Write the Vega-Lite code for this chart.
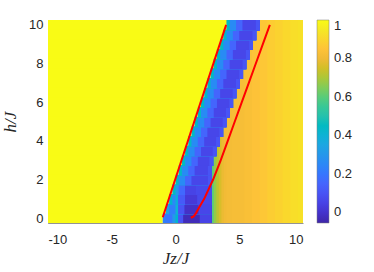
{
  "$schema": "https://vega.github.io/schema/vega-lite/v6.json",
  "width": 255,
  "height": 203,
  "autosize": {"type": "none"},
  "padding": {"left": 48, "top": 20, "right": 71, "bottom": 49},
  "background": "white",
  "config": {
    "view": {"stroke": null},
    "font": "Liberation Sans",
    "axis": {"grid": false, "ticks": false, "labelFontSize": 13, "labelColor": "#262626", "domainColor": "#262626", "domainWidth": 0.5, "titleColor": "#262626", "titleFont": "Liberation Serif", "titleFontStyle": "italic", "titleFontWeight": "normal", "titleFontSize": 17}
  },
  "datasets": {
    "cells": [
      {"x1":2.8,"x2":10,"y1":-0.25,"y2":10.25,"v":0.6},
      {"x1":3.0,"x2":10,"y1":-0.25,"y2":10.25,"v":0.67},
      {"x1":3.2,"x2":10,"y1":-0.25,"y2":10.25,"v":0.72},
      {"x1":3.4,"x2":10,"y1":-0.25,"y2":10.25,"v":0.76},
      {"x1":3.6,"x2":10,"y1":-0.25,"y2":10.25,"v":0.79},
      {"x1":3.8,"x2":10,"y1":-0.25,"y2":10.25,"v":0.805},
      {"x1":4.0,"x2":10,"y1":-0.25,"y2":10.25,"v":0.815},
      {"x1":4.4,"x2":10,"y1":-0.25,"y2":10.25,"v":0.82},
      {"x1":5.4,"x2":10,"y1":-0.25,"y2":10.25,"v":0.83},
      {"x1":6.0,"x2":10,"y1":-0.25,"y2":10.25,"v":0.845},
      {"x1":6.6,"x2":10,"y1":-0.25,"y2":10.25,"v":0.86},
      {"x1":7.2,"x2":10,"y1":-0.25,"y2":10.25,"v":0.875},
      {"x1":7.8,"x2":10,"y1":-0.25,"y2":10.25,"v":0.89},
      {"x1":8.4,"x2":10,"y1":-0.25,"y2":10.25,"v":0.905},
      {"x1":9.0,"x2":10,"y1":-0.25,"y2":10.25,"v":0.92},
      {"x1":9.6,"x2":10,"y1":-0.25,"y2":10.25,"v":0.93},

      {"x1":-10,"x2":-1,"y1":-0.25,"y2":10.25,"v":1},
      {"x1":-10,"x2":-0.75,"y1":0.25,"y2":10.25,"v":1},
      {"x1":-10,"x2":-0.5,"y1":0.75,"y2":10.25,"v":1},
      {"x1":-10,"x2":-0.25,"y1":1.25,"y2":10.25,"v":1},
      {"x1":-10,"x2":0,"y1":1.75,"y2":10.25,"v":1},
      {"x1":-10,"x2":0.25,"y1":2.25,"y2":10.25,"v":1},
      {"x1":-10,"x2":0.5,"y1":2.75,"y2":10.25,"v":1},
      {"x1":-10,"x2":0.75,"y1":3.25,"y2":10.25,"v":1},
      {"x1":-10,"x2":1,"y1":3.75,"y2":10.25,"v":1},
      {"x1":-10,"x2":1.25,"y1":4.25,"y2":10.25,"v":1},
      {"x1":-10,"x2":1.5,"y1":4.75,"y2":10.25,"v":1},
      {"x1":-10,"x2":1.75,"y1":5.25,"y2":10.25,"v":1},
      {"x1":-10,"x2":2,"y1":5.75,"y2":10.25,"v":1},
      {"x1":-10,"x2":2.25,"y1":6.25,"y2":10.25,"v":1},
      {"x1":-10,"x2":2.5,"y1":6.75,"y2":10.25,"v":1},
      {"x1":-10,"x2":2.75,"y1":7.25,"y2":10.25,"v":1},
      {"x1":-10,"x2":3,"y1":7.75,"y2":10.25,"v":1},
      {"x1":-10,"x2":3.25,"y1":8.25,"y2":10.25,"v":1},
      {"x1":-10,"x2":3.5,"y1":8.75,"y2":10.25,"v":1},
      {"x1":-10,"x2":3.75,"y1":9.25,"y2":10.25,"v":1},
      {"x1":-10,"x2":4,"y1":9.75,"y2":10.25,"v":1},

      {"x1":-1,"x2":2.84,"y1":-0.25,"y2":0.25,"v":0.22},
      {"x1":-0.75,"x2":2.84,"y1":-0.25,"y2":0.25,"v":0.2},
      {"x1":-0.25,"x2":2.84,"y1":-0.25,"y2":0.25,"v":0.3},
      {"x1":0,"x2":2.84,"y1":-0.25,"y2":0.25,"v":0.42},
      {"x1":0.2,"x2":2.84,"y1":-0.25,"y2":0.25,"v":0.1},
      {"x1":0.6,"x2":2.84,"y1":-0.25,"y2":0.25,"v":-0.03},
      {"x1":1.9,"x2":2.84,"y1":-0.25,"y2":0.25,"v":0.05},

      {"x1":-0.75,"x2":2.84,"y1":0.2,"y2":0.75,"v":0.35},
      {"x1":-0.5,"x2":2.84,"y1":0.2,"y2":0.75,"v":0.22},
      {"x1":0,"x2":2.84,"y1":0.2,"y2":0.75,"v":0.4},
      {"x1":0.2,"x2":2.84,"y1":0.2,"y2":0.75,"v":0.1},
      {"x1":0.7,"x2":2.84,"y1":0.2,"y2":0.75,"v":-0.01},
      {"x1":1.8,"x2":2.84,"y1":0.2,"y2":0.75,"v":0.06},

      {"x1":-0.5,"x2":2.84,"y1":0.7,"y2":1.25,"v":0.42},
      {"x1":-0.25,"x2":2.84,"y1":0.7,"y2":1.25,"v":0.25},
      {"x1":0,"x2":2.84,"y1":0.7,"y2":1.25,"v":0.38},
      {"x1":0.2,"x2":2.84,"y1":0.7,"y2":1.25,"v":0.12},
      {"x1":0.75,"x2":2.84,"y1":0.7,"y2":1.25,"v":0.02},
      {"x1":1.7,"x2":2.84,"y1":0.7,"y2":1.25,"v":0.07},

      {"x1":-0.25,"x2":2.84,"y1":1.2,"y2":1.75,"v":0.45},
      {"x1":0,"x2":2.84,"y1":1.2,"y2":1.75,"v":0.3},
      {"x1":0.25,"x2":2.84,"y1":1.2,"y2":1.75,"v":0.16},
      {"x1":0.75,"x2":2.84,"y1":1.2,"y2":1.75,"v":0.05},
      {"x1":1.6,"x2":2.84,"y1":1.2,"y2":1.75,"v":0.07},

      {"x1":0,"x2":2.84,"y1":1.7,"y2":2.25,"v":0.45},
      {"x1":0.25,"x2":2.84,"y1":1.7,"y2":2.25,"v":0.26},
      {"x1":0.75,"x2":2.84,"y1":1.7,"y2":2.25,"v":0.15},
      {"x1":1.25,"x2":2.84,"y1":1.7,"y2":2.25,"v":0.06},
      {"x1":2.54,"x2":2.84,"y1":1.7,"y2":2.25,"v":0.1},

      {"x1":0.25,"x2":2.84,"y1":2.2,"y2":2.75,"v":0.45},
      {"x1":0.5,"x2":2.84,"y1":2.2,"y2":2.75,"v":0.26},
      {"x1":1.0,"x2":2.84,"y1":2.2,"y2":2.75,"v":0.15},
      {"x1":1.5,"x2":2.84,"y1":2.2,"y2":2.75,"v":0.06},
      {"x1":2.54,"x2":2.84,"y1":2.2,"y2":2.75,"v":0.1},

      {"x1":0.5,"x2":2.96,"y1":2.7,"y2":3.25,"v":0.45},
      {"x1":0.75,"x2":2.96,"y1":2.7,"y2":3.25,"v":0.26},
      {"x1":1.25,"x2":2.96,"y1":2.7,"y2":3.25,"v":0.15},
      {"x1":1.75,"x2":2.96,"y1":2.7,"y2":3.25,"v":0.06},
      {"x1":2.66,"x2":2.96,"y1":2.7,"y2":3.25,"v":0.1},

      {"x1":0.75,"x2":3.22,"y1":3.2,"y2":3.75,"v":0.45},
      {"x1":1.0,"x2":3.22,"y1":3.2,"y2":3.75,"v":0.26},
      {"x1":1.5,"x2":3.22,"y1":3.2,"y2":3.75,"v":0.15},
      {"x1":2.0,"x2":3.22,"y1":3.2,"y2":3.75,"v":0.06},
      {"x1":2.92,"x2":3.22,"y1":3.2,"y2":3.75,"v":0.1},

      {"x1":1.0,"x2":3.48,"y1":3.7,"y2":4.25,"v":0.45},
      {"x1":1.25,"x2":3.48,"y1":3.7,"y2":4.25,"v":0.26},
      {"x1":1.75,"x2":3.48,"y1":3.7,"y2":4.25,"v":0.15},
      {"x1":2.25,"x2":3.48,"y1":3.7,"y2":4.25,"v":0.06},
      {"x1":3.18,"x2":3.48,"y1":3.7,"y2":4.25,"v":0.1},

      {"x1":1.25,"x2":3.74,"y1":4.2,"y2":4.75,"v":0.45},
      {"x1":1.5,"x2":3.74,"y1":4.2,"y2":4.75,"v":0.26},
      {"x1":2.0,"x2":3.74,"y1":4.2,"y2":4.75,"v":0.15},
      {"x1":2.5,"x2":3.74,"y1":4.2,"y2":4.75,"v":0.06},
      {"x1":3.44,"x2":3.74,"y1":4.2,"y2":4.75,"v":0.1},

      {"x1":1.5,"x2":4.0,"y1":4.7,"y2":5.25,"v":0.45},
      {"x1":1.75,"x2":4.0,"y1":4.7,"y2":5.25,"v":0.26},
      {"x1":2.25,"x2":4.0,"y1":4.7,"y2":5.25,"v":0.15},
      {"x1":2.75,"x2":4.0,"y1":4.7,"y2":5.25,"v":0.06},
      {"x1":3.7,"x2":4.0,"y1":4.7,"y2":5.25,"v":0.1},

      {"x1":1.75,"x2":4.26,"y1":5.2,"y2":5.75,"v":0.45},
      {"x1":2.0,"x2":4.26,"y1":5.2,"y2":5.75,"v":0.26},
      {"x1":2.5,"x2":4.26,"y1":5.2,"y2":5.75,"v":0.15},
      {"x1":3.0,"x2":4.26,"y1":5.2,"y2":5.75,"v":0.06},
      {"x1":3.96,"x2":4.26,"y1":5.2,"y2":5.75,"v":0.1},

      {"x1":2.0,"x2":4.52,"y1":5.7,"y2":6.25,"v":0.45},
      {"x1":2.25,"x2":4.52,"y1":5.7,"y2":6.25,"v":0.26},
      {"x1":2.75,"x2":4.52,"y1":5.7,"y2":6.25,"v":0.15},
      {"x1":3.25,"x2":4.52,"y1":5.7,"y2":6.25,"v":0.06},
      {"x1":4.22,"x2":4.52,"y1":5.7,"y2":6.25,"v":0.1},

      {"x1":2.25,"x2":4.78,"y1":6.2,"y2":6.75,"v":0.45},
      {"x1":2.5,"x2":4.78,"y1":6.2,"y2":6.75,"v":0.26},
      {"x1":3.0,"x2":4.78,"y1":6.2,"y2":6.75,"v":0.15},
      {"x1":3.5,"x2":4.78,"y1":6.2,"y2":6.75,"v":0.06},
      {"x1":4.48,"x2":4.78,"y1":6.2,"y2":6.75,"v":0.1},

      {"x1":2.5,"x2":5.04,"y1":6.7,"y2":7.25,"v":0.45},
      {"x1":2.75,"x2":5.04,"y1":6.7,"y2":7.25,"v":0.26},
      {"x1":3.25,"x2":5.04,"y1":6.7,"y2":7.25,"v":0.15},
      {"x1":3.75,"x2":5.04,"y1":6.7,"y2":7.25,"v":0.06},
      {"x1":4.74,"x2":5.04,"y1":6.7,"y2":7.25,"v":0.1},

      {"x1":2.75,"x2":5.3,"y1":7.2,"y2":7.75,"v":0.45},
      {"x1":3.0,"x2":5.3,"y1":7.2,"y2":7.75,"v":0.26},
      {"x1":3.5,"x2":5.3,"y1":7.2,"y2":7.75,"v":0.15},
      {"x1":4.0,"x2":5.3,"y1":7.2,"y2":7.75,"v":0.06},
      {"x1":5.0,"x2":5.3,"y1":7.2,"y2":7.75,"v":0.1},

      {"x1":3.0,"x2":5.56,"y1":7.7,"y2":8.25,"v":0.45},
      {"x1":3.25,"x2":5.56,"y1":7.7,"y2":8.25,"v":0.26},
      {"x1":3.75,"x2":5.56,"y1":7.7,"y2":8.25,"v":0.15},
      {"x1":4.25,"x2":5.56,"y1":7.7,"y2":8.25,"v":0.06},
      {"x1":5.26,"x2":5.56,"y1":7.7,"y2":8.25,"v":0.1},

      {"x1":3.25,"x2":5.82,"y1":8.2,"y2":8.75,"v":0.45},
      {"x1":3.5,"x2":5.82,"y1":8.2,"y2":8.75,"v":0.26},
      {"x1":4.0,"x2":5.82,"y1":8.2,"y2":8.75,"v":0.15},
      {"x1":4.5,"x2":5.82,"y1":8.2,"y2":8.75,"v":0.06},
      {"x1":5.52,"x2":5.82,"y1":8.2,"y2":8.75,"v":0.1},

      {"x1":3.5,"x2":6.08,"y1":8.7,"y2":9.25,"v":0.45},
      {"x1":3.75,"x2":6.08,"y1":8.7,"y2":9.25,"v":0.26},
      {"x1":4.25,"x2":6.08,"y1":8.7,"y2":9.25,"v":0.15},
      {"x1":4.75,"x2":6.08,"y1":8.7,"y2":9.25,"v":0.06},
      {"x1":5.78,"x2":6.08,"y1":8.7,"y2":9.25,"v":0.1},

      {"x1":3.75,"x2":6.34,"y1":9.2,"y2":9.75,"v":0.45},
      {"x1":4.0,"x2":6.34,"y1":9.2,"y2":9.75,"v":0.26},
      {"x1":4.5,"x2":6.34,"y1":9.2,"y2":9.75,"v":0.15},
      {"x1":5.0,"x2":6.34,"y1":9.2,"y2":9.75,"v":0.06},
      {"x1":6.04,"x2":6.34,"y1":9.2,"y2":9.75,"v":0.1},

      {"x1":4.0,"x2":6.6,"y1":9.7,"y2":10.25,"v":0.45},
      {"x1":4.25,"x2":6.6,"y1":9.7,"y2":10.25,"v":0.26},
      {"x1":4.75,"x2":6.6,"y1":9.7,"y2":10.25,"v":0.15},
      {"x1":5.25,"x2":6.6,"y1":9.7,"y2":10.25,"v":0.06},
      {"x1":6.3,"x2":6.6,"y1":9.7,"y2":10.25,"v":0.1}
    ],
    "lines": [
      {"id":"a","x1":-1.0,"y1":0.05},
      {"id":"a","x1":3.97,"y1":10.0},
      {"id":"b","x1":1.2,"y1":0.02},
      {"id":"b","x1":1.4,"y1":0.08},
      {"id":"b","x1":1.6,"y1":0.25},
      {"id":"b","x1":1.85,"y1":0.55},
      {"id":"b","x1":2.25,"y1":1.0},
      {"id":"b","x1":2.95,"y1":2.0},
      {"id":"b","x1":3.55,"y1":3.0},
      {"id":"b","x1":4.1,"y1":4.0},
      {"id":"b","x1":4.65,"y1":5.0},
      {"id":"b","x1":5.2,"y1":6.0},
      {"id":"b","x1":5.75,"y1":7.0},
      {"id":"b","x1":6.3,"y1":8.0},
      {"id":"b","x1":6.85,"y1":9.0},
      {"id":"b","x1":7.4,"y1":10.0}
    ]
  },
  "layer": [
    {
      "data": {"name": "cells"},
      "mark": {"type": "rect", "strokeWidth": 0},
      "encoding": {
        "x": {"field": "x1", "type": "quantitative", "scale": {"domain": [-10, 10], "nice": false, "zero": false}, "axis": {"values": [-10, -5, 0, 5, 10], "labelExpr": "'' + datum.value", "labelPadding": 10, "title": "Jz/J", "titlePadding": 4}},
        "x2": {"field": "x2"},
        "y": {"field": "y1", "type": "quantitative", "scale": {"domain": [-0.25, 10.25], "nice": false, "zero": false}, "axis": {"values": [0, 2, 4, 6, 8, 10], "labelPadding": 5, "title": "h/J", "titlePadding": 9}},
        "y2": {"field": "y2"},
        "color": {
          "field": "v", "type": "quantitative",
          "scale": {
            "domain": [-0.055, -0.0048, 0.0455, 0.0957, 0.146, 0.1962, 0.2464, 0.2967, 0.3469, 0.3971, 0.4474, 0.4976, 0.5479, 0.5981, 0.6483, 0.6986, 0.7488, 0.799, 0.8493, 0.8995, 0.9498, 1.0],
            "range": ["#3E26A8", "#4432CB", "#4741E5", "#4852F4", "#4563FD", "#3875FE", "#2E87F7", "#2796EB", "#20A5E3", "#12B1D6", "#02BAC3", "#24C1AE", "#37C897", "#57CC7A", "#81CC59", "#ABC739", "#D1BF27", "#F0BA36", "#FEC338", "#FAD62D", "#F5E924", "#F9FB15"]
          },
          "legend": {"orient": "right", "offset": 14, "padding": 0, "title": null, "gradientLength": 203, "gradientThickness": 12, "values": [0, 0.2, 0.4, 0.6, 0.8, 1], "format": "~g", "labelFontSize": 13, "labelColor": "#262626", "labelOffset": 5, "labelOverlap": false, "gradientStrokeColor": "#7f7f7f", "gradientStrokeWidth": 0.5}
        }
      }
    },
    {
      "data": {"name": "lines"},
      "mark": {"type": "line", "color": "#FF0000", "strokeWidth": 2},
      "encoding": {
        "x": {"field": "x1", "type": "quantitative"},
        "y": {"field": "y1", "type": "quantitative"},
        "detail": {"field": "id"},
        "order": {"field": "y1"}
      }
    }
  ]
}
